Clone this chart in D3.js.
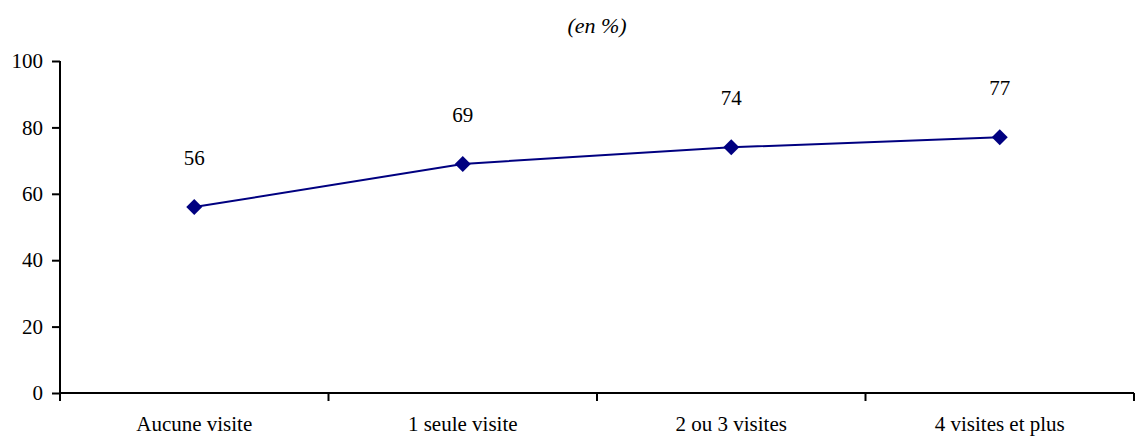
<!DOCTYPE html>
<html>
  <head>
    <meta charset="utf-8">
    <title>en %</title>
    <script src="https://d3js.org/d3.v7.min.js"></script>
    <style>
      body { margin: 0; background: #fff; }
      svg text { font-family: "Times New Roman", Times, "Liberation Serif", "DejaVu Serif", serif; fill: #000; }
      .axis path, .axis line { stroke: #000; stroke-width: 2; }
      .axis text { font-size: 21px; }
    </style>
  </head>
  <body>
    <svg id="chart" width="1136" height="436"></svg>
    <script>
      // data
      const categories = ["Aucune visite", "1 seule visite", "2 ou 3 visites", "4 visites et plus"];
      const values = [56, 69, 74, 77];
      const yTicks = [0, 20, 40, 60, 80, 100];

      const svg = d3.select("#chart");
      const mLeft = 60;
      const mRight = 1134;
      const mTop = 61;
      const mBottom = 393;

      const x = d3.scaleBand()
        .domain(categories)
        .range([mLeft, mRight]);
      const y = d3.scaleLinear()
        .domain([0, 100])
        .range([mBottom, mTop]);

      // title
      svg.append("text")
        .attr("x", 597)
        .attr("y", 33)
        .attr("text-anchor", "middle")
        .style("font-style", "italic")
        .style("font-size", "22px")
        .text("(en %)");

      // y axis
      svg.append("g")
        .attr("class", "axis")
        .attr("transform", "translate(" + mLeft + ",0)")
        .call(d3.axisLeft(y).tickValues(yTicks).tickSize(8).tickPadding(9).tickSizeOuter(0))
        .call(function(g) {
          g.attr("font-family", null);
          g.select(".domain").attr("d", "M0," + mTop + "V" + (mBottom + 1));
        });

      // x axis with ticks between categories
      const xAxis = svg.append("g")
        .attr("class", "axis")
        .attr("transform", "translate(0," + mBottom + ")");
      xAxis.append("line")
        .attr("x1", mLeft - 1)
        .attr("x2", mRight)
        .attr("y1", 0)
        .attr("y2", 0);
      const bounds = categories.map(function(d) { return x(d); }).concat([mRight]);
      xAxis.selectAll(".tick")
        .data(bounds)
        .enter().append("line")
          .attr("class", "tick")
          .attr("x1", function(d) { return d; })
          .attr("x2", function(d) { return d; })
          .attr("y1", 0)
          .attr("y2", 8);
      xAxis.selectAll(".lab")
        .data(categories)
        .enter().append("text")
          .attr("class", "lab")
          .attr("x", function(d) { return x(d) + x.bandwidth() / 2; })
          .attr("y", 38)
          .attr("text-anchor", "middle")
          .text(function(d) { return d; });

      // line
      const cx = function(d, i) { return x(categories[i]) + x.bandwidth() / 2; };
      const line = d3.line()
        .x(cx)
        .y(function(d) { return y(d); });
      svg.append("path")
        .datum(values)
        .attr("d", line)
        .attr("fill", "none")
        .attr("stroke", "#000080")
        .attr("stroke-width", 2);

      // markers
      svg.selectAll(".marker")
        .data(values)
        .enter().append("path")
          .attr("class", "marker")
          .attr("d", "M0,-8L8,0L0,8L-8,0Z")
          .attr("fill", "#000080")
          .attr("transform", function(d, i) {
            return "translate(" + cx(d, i) + "," + y(d) + ")";
          });

      // value labels
      svg.selectAll(".val")
        .data(values)
        .enter().append("text")
          .attr("class", "val")
          .attr("x", cx)
          .attr("y", function(d) { return y(d) - 42; })
          .attr("text-anchor", "middle")
          .style("font-size", "21px")
          .text(function(d) { return d; });
    </script>
  </body>
</html>
